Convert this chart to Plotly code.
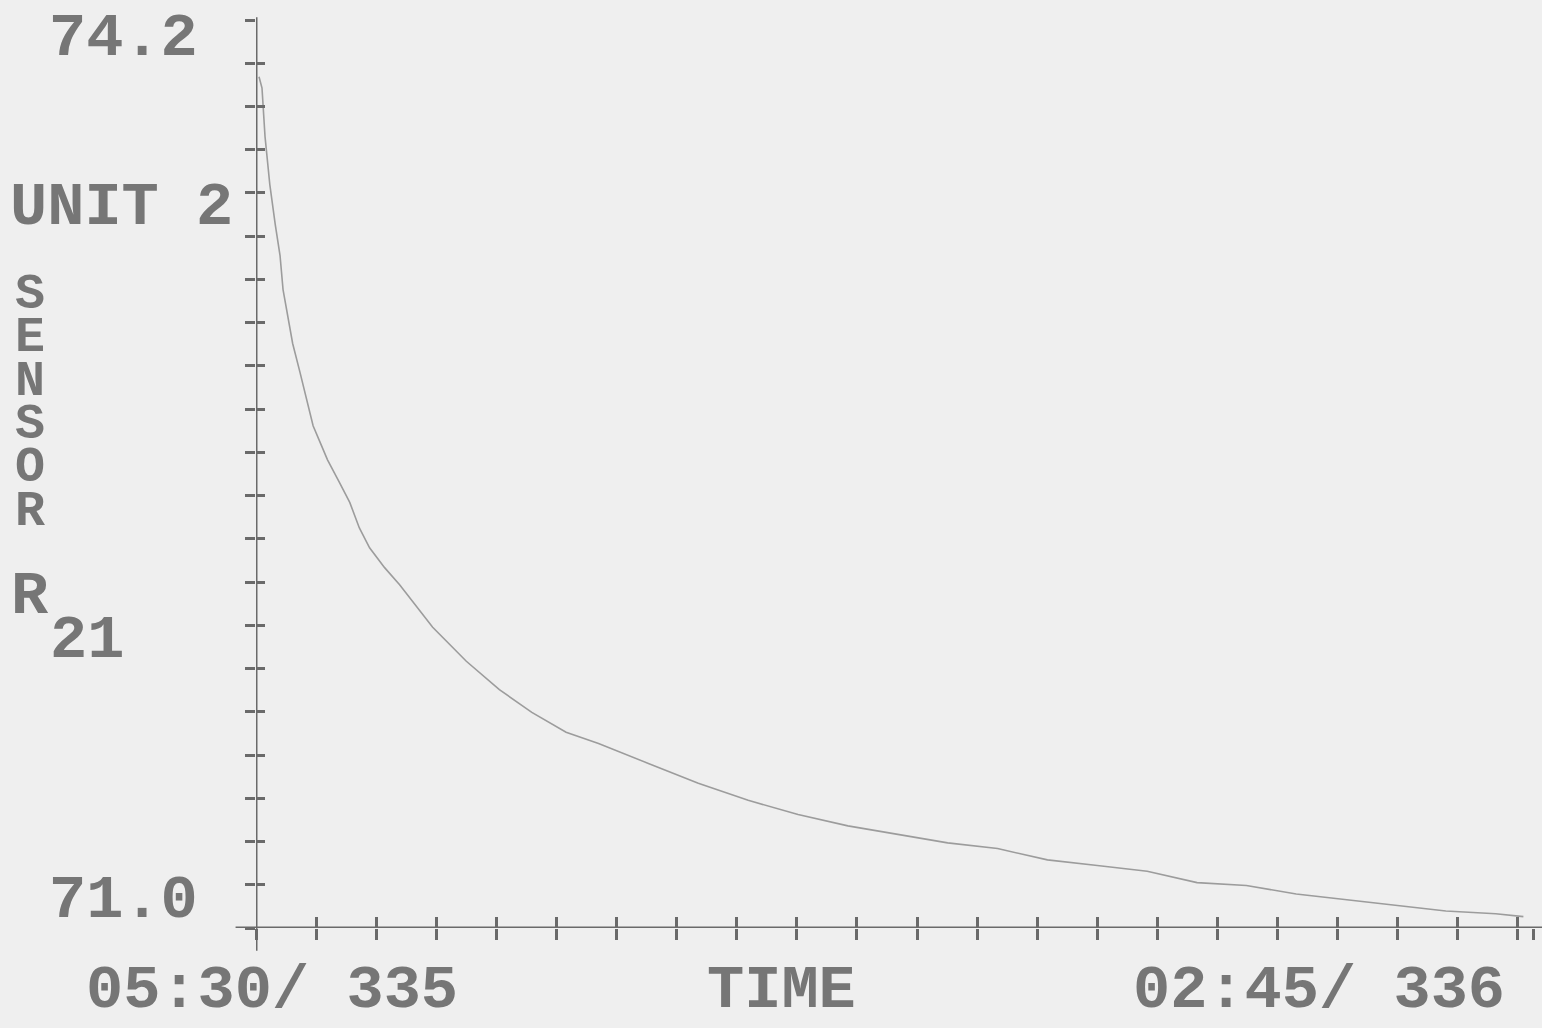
import plotly.graph_objects as go

# Sensor R21 trend, unit 2: elapsed hours after 05:30 on day 335
elapsed_h = [0.05, 0.10, 0.15, 0.23, 0.32, 0.40, 0.45, 0.53, 0.61, 0.73, 0.85, 0.95,
             1.09, 1.19, 1.39, 1.56, 1.72, 1.89, 2.14, 2.39, 2.94, 3.50, 4.05, 4.59,
             5.16, 5.70, 6.53, 7.36, 8.19, 9.02, 9.85, 10.68, 11.51, 12.34, 13.17,
             14.00, 14.83, 15.66, 16.48, 17.31, 18.14, 18.97, 19.80, 20.63, 21.09]
sensor_val = [74.00, 73.96, 73.79, 73.62, 73.48, 73.37, 73.25, 73.15, 73.06, 72.96, 72.86, 72.77,
              72.70, 72.65, 72.57, 72.50, 72.41, 72.34, 72.27, 72.21, 72.06, 71.94, 71.84, 71.76,
              71.69, 71.65, 71.58, 71.51, 71.45, 71.40, 71.36, 71.33, 71.30, 71.28, 71.24,
              71.22, 71.20, 71.16, 71.15, 71.12, 71.10, 71.08, 71.06, 71.05, 71.04]

y_labels = ["74.2", "71.0"]
start_label = "05:30/ 335"
end_label = "02:45/ 336"
x_title = "TIME"
unit_label = "UNIT 2"
sensor_word = "SENSOR"
sensor_id = ("R", "21")

Y_MIN, Y_MAX = 71.0, 74.2
X_END = 21.25          # 05:30 -> 02:45 next day
N_YDIV = 21

# plot-area placement in pixels
W, H = 1542, 1028
L, R, T, B = 256, 1533, 20, 928

BG = "#efefef"
INK = "#6a6a6a"
TXT = "#767676"
CURVE = "#9c9c9c"
FONT = dict(family="Liberation Mono", size=62, color=TXT, weight="bold")
# stacked word: small base size sets the line pitch, spans set the glyph size
LINE_PITCH = 43.3
FONT_STACK = dict(family="Liberation Mono", size=LINE_PITCH / 1.3, color=TXT, weight="bold")


def px(xp):
    return (xp - L) / (R - L)


def py(yp):
    return (B - yp) / (B - T)


x_ticks = list(range(0, 22)) + [X_END]
y_ticks = [Y_MIN + i * (Y_MAX - Y_MIN) / N_YDIV for i in range(N_YDIV + 1)]

fig = go.Figure()
fig.add_trace(go.Scatter(x=elapsed_h, y=sensor_val, mode="lines",
                         line=dict(color=CURVE, width=1.6),
                         hoverinfo="skip", showlegend=False))
# carrier for the overlaid tick axes
fig.add_trace(go.Scatter(x=[0], y=[Y_MIN], mode="markers", marker=dict(opacity=0),
                         xaxis="x2", yaxis="y2", hoverinfo="skip", showlegend=False))

common = dict(showgrid=False, zeroline=False, showline=False, showticklabels=False,
              tickcolor=INK, tickwidth=3)
fig.update_layout(
    width=W, height=H, autosize=False,
    margin=dict(l=L, r=W - R, t=T, b=H - B),
    paper_bgcolor=BG, plot_bgcolor=BG,
    xaxis=dict(range=[0, X_END], tickvals=x_ticks, ticks="outside", ticklen=11, **common),
    xaxis2=dict(range=[0, X_END], tickvals=x_ticks, ticks="inside", ticklen=11,
                overlaying="x", anchor="y2", **common),
    yaxis=dict(range=[Y_MIN, Y_MAX], tickvals=y_ticks, ticks="outside", ticklen=10, **common),
    yaxis2=dict(range=[Y_MIN, Y_MAX], tickvals=y_ticks, ticks="inside", ticklen=9,
                overlaying="y", anchor="x2", **common),
)

# axis lines, extended slightly past the plot area
fig.add_shape(type="line", xref="x domain", yref="y", x0=-0.016, x1=1.01, y0=Y_MIN, y1=Y_MIN,
              line=dict(color=INK, width=3))
fig.add_shape(type="line", xref="x", yref="y domain", x0=0, x1=0, y0=-0.025, y1=1.003,
              line=dict(color=INK, width=3))


def label(text, xp, yp, anchor="center", font=FONT):
    fig.add_annotation(text=text, xref="paper", yref="paper", x=px(xp), y=py(yp),
                       xanchor=anchor, yanchor="middle", showarrow=False, font=font)


label(y_labels[0], 200, 38, "right")
label(y_labels[1], 200, 900, "right")
label(unit_label, 8, 207, "left")
stacked = "<br>".join(f'<span style="font-size:50px">{ch}</span>' for ch in sensor_word)
label(stacked, 30, 295 + 2.5 * LINE_PITCH, font=FONT_STACK)
label(sensor_id[0], 30, 596)
label(sensor_id[1], 48, 641, "left")
label(start_label, 84, 990, "left")
label(x_title, 781, 990)
label(end_label, 1507, 990, "right")

fig.write_html("out.html")
